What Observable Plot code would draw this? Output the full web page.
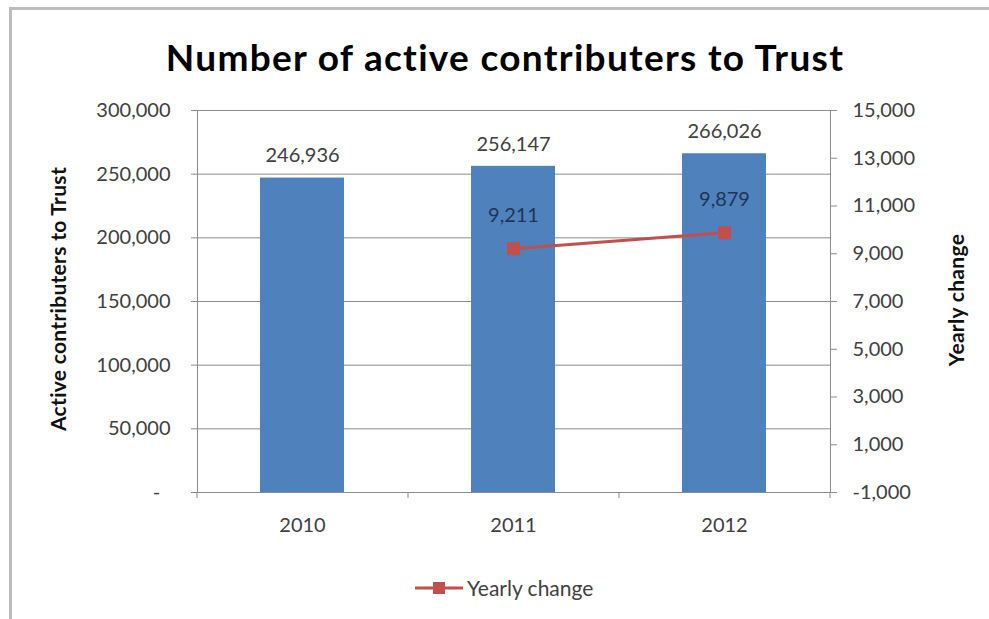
<!DOCTYPE html>
<html><head><meta charset="utf-8">
<script src="https://cdn.jsdelivr.net/npm/d3@7"></script>
<script src="https://cdn.jsdelivr.net/npm/@observablehq/plot@0.6"></script>
<style>
html,body{margin:0;padding:0;background:#fff;overflow:hidden;width:989px;height:619px;}
#wrap{position:relative;width:989px;height:619px;font-family:Lato,sans-serif;overflow:hidden;}
#frame{position:absolute;left:9px;top:7px;width:1400px;height:1000px;border-left:3px solid #bdbdbd;border-top:3px solid #bdbdbd;}
#title{position:absolute;left:505px;top:56px;transform:translate(-50%,-50%);white-space:nowrap;font-size:37px;letter-spacing:1.3px;font-weight:bold;color:#000;}
.ytitle{position:absolute;transform:translate(-50%,-50%) rotate(-90deg);white-space:nowrap;font-size:21px;letter-spacing:0.3px;font-weight:bold;color:#111;}
#legend{position:absolute;left:414px;top:575px;display:flex;align-items:center;font-size:21px;color:#404040;}
#chart{position:absolute;left:0;top:0;}
</style></head>
<body>
<div id="wrap">
  <div id="frame"></div>
  <div id="chart"></div>
  <div id="title">Number of active contributers to Trust</div>
  <div class="ytitle" style="left:57px;top:299px;">Active contributers to Trust</div>
  <div class="ytitle" style="left:955px;top:300px;">Yearly change</div>
  <div id="legend"><svg width="50" height="24"><line x1="1" x2="49" y1="12" y2="12" stroke="#C0504D" stroke-width="3"/><rect x="19" y="6" width="12" height="12" fill="#C0504D"/></svg><span style="margin-left:3px">Yearly change</span></div>
</div>
<script>
const years = ["2010", "2011", "2012"];
const contributors = [246936, 256147, 266026];
const changeYears = ["2011", "2012"];
const yearlyChange = [9211, 9879];
const leftTicks = [0, 50000, 100000, 150000, 200000, 250000, 300000];
const rightTicks = [-1000, 1000, 3000, 5000, 7000, 9000, 11000, 13000, 15000];

const leftMax = 300000, rightMin = -1000, rightMax = 15000;
const toLeft = v => (v - rightMin) / (rightMax - rightMin) * leftMax;
const fromLeft = v => Math.round(v / leftMax * (rightMax - rightMin) + rightMin);
const fmt = d => d3.format(",")(d).replace("\u2212", "-");

const bars = years.map((y, i) => ({year: y, value: contributors[i]}));
const changes = changeYears.map((y, i) => ({year: y, value: yearlyChange[i]}));

const boundaryTicks = (index, scales, values, dims) => {
  const g = d3.create("svg:g");
  const n = years.length;
  const inner = dims.width - dims.marginLeft - dims.marginRight;
  const yb = dims.height - dims.marginBottom;
  for (let i = 0; i <= n; i++) {
    const x = dims.marginLeft + i * inner / n;
    g.append("line").attr("x1", x).attr("x2", x).attr("y1", yb).attr("y2", yb + 6).attr("stroke", "#8c8c8c");
  }
  return g.node();
};

const plot = Plot.plot({
  width: 989, height: 619,
  marginTop: 110, marginBottom: 127, marginLeft: 197, marginRight: 159,
  style: {fontFamily: "Lato, sans-serif", fontSize: "20px", color: "#404040", background: "transparent", overflow: "visible"},
  x: {domain: years, paddingInner: 0.6, paddingOuter: 0.3, axis: null},
  y: {domain: [0, leftMax], axis: null},
  marks: [
    Plot.gridY(leftTicks, {stroke: "#8c8c8c", strokeOpacity: 1}),
    Plot.barY(bars, {x: "year", y: "value", fill: "#4F81BD"}),
    Plot.frame({stroke: "#8c8c8c"}),
    Plot.axisY(leftTicks, {anchor: "left", tickSize: 6, tickPadding: 21, stroke: "#8c8c8c", label: null,
      tickFormat: d => d === 0 ? "-\u00a0\u00a0" : fmt(d)}),
    Plot.axisY(rightTicks.map(toLeft), {anchor: "right", tickSize: 6, tickPadding: 16, stroke: "#8c8c8c", label: null,
      tickFormat: d => fmt(fromLeft(d))}),
    Plot.axisX(years, {anchor: "bottom", tickSize: 0, tickPadding: 25, label: null}),
    boundaryTicks,
    Plot.text(bars, {x: "year", y: "value", text: d => fmt(d.value), dy: -22, fill: "#404040"}),
    Plot.line(changes, {x: "year", y: d => toLeft(d.value), stroke: "#C0504D", strokeWidth: 3}),
    Plot.dot(changes, {x: "year", y: d => toLeft(d.value), symbol: "square", r: 6.5, fill: "#C0504D", stroke: "#C0504D"}),
    Plot.text(changes, {x: "year", y: d => toLeft(d.value), text: d => fmt(d.value), dy: -33, fill: "#1f3556"})
  ]
});
document.getElementById("chart").appendChild(plot);
</script>
</body></html>
